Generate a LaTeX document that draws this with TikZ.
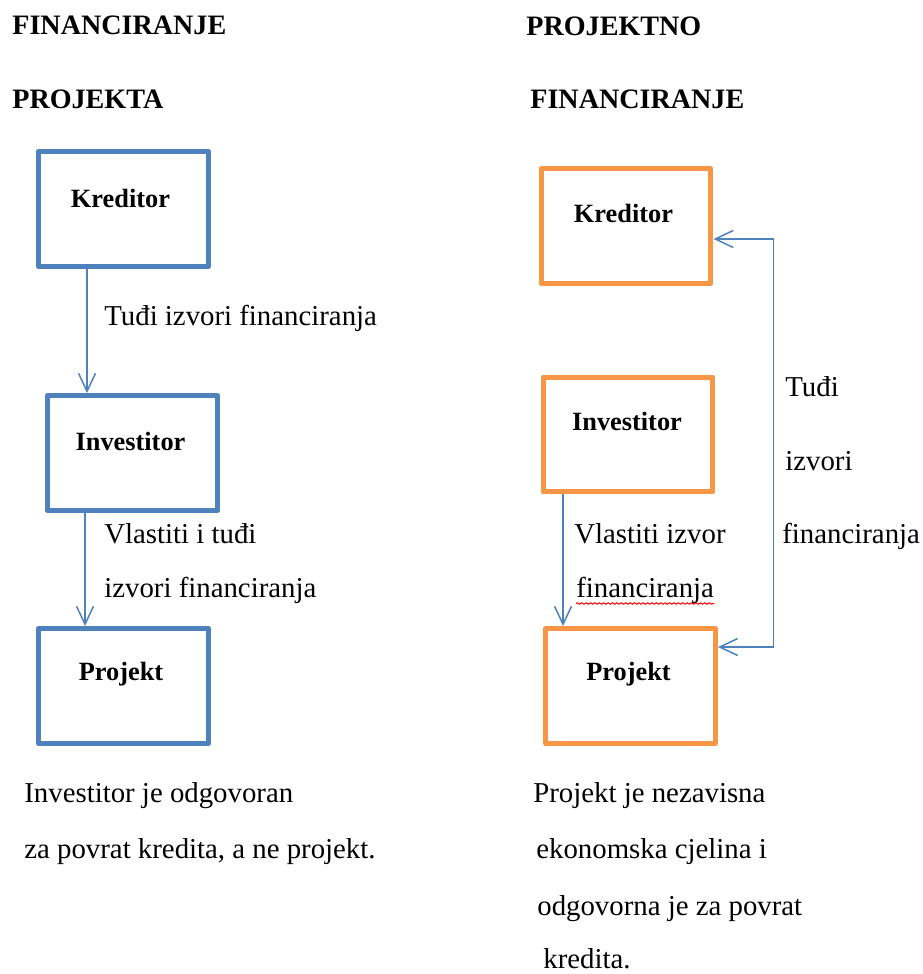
\documentclass[tikz,border=0pt]{standalone}
\usepackage{fontspec}
\setmainfont{Liberation Serif}
\usetikzlibrary{arrows.meta,decorations.pathmorphing}

\tikzset{
	box/.style={draw, line width=0.1cm, line join=round, minimum width=3.4cm, minimum height=2.3cm, inner sep=0pt},
	boxtext/.style={anchor=base, inner sep=0pt, font=\fontsize{15}{18}\selectfont\bfseries},
	txt/.style={anchor=base west, inner sep=0pt, font=\fontsize{16.4}{19}\selectfont},
	title/.style={txt, font=\fontsize{16}{19}\selectfont\bfseries},
	tok/.style={draw=LNK, line width=0.03cm}
}

\begin{document}
\begin{tikzpicture}[x=0.02cm,y=-0.02cm,>={Straight Barb[length=3.6mm,width=3.4mm]}]
\definecolor{LFT}{HTML}{4F81BD}
\definecolor{RGT}{HTML}{F79646}
\colorlet{LNK}{LFT}

\useasboundingbox (0,0) rectangle (923,974);

% Financiranje projekta
\node[title] (titL1) at (12,34) {FINANCIRANJE};
\node[title] (titL2) at (12,108) {PROJEKTA};

\foreach \n/\x/\y in {kredL/123.5/209,invL/132.5/453,projL/123.5/686}{
	\node[box, draw=LFT] (\n) at (\x,\y) {};
}
\node[boxtext] (kredLt) at (120.5,207) {Kreditor};
\node[boxtext] (invLt) at (130.5,450) {Investitor};
\node[boxtext] (projLt) at (121,680) {Projekt};

\draw[tok,->] ([xshift=-0.73cm]kredL.south) -- ([xshift=-0.73cm]kredL.south |- invL.north);
\draw[tok,->] ([xshift=-0.95cm]invL.south) -- ([xshift=-0.95cm]invL.south |- projL.north);

\node[txt] (tudjL) at (104,325) {Tuđi izvori financiranja};
\node[txt] (vlastL1) at (104,543) {Vlastiti i tuđi};
\node[txt] (vlastL2) at (104,597) {izvori financiranja};

\node[txt] (noteL1) at (24,802) {Investitor je odgovoran};
\node[txt] (noteL2) at (24,858) {za povrat kredita, a ne projekt.};

% Projektno financiranje
\node[title] (titR1) at (526,35) {PROJEKTNO};
\node[title] (titR2) at (530,108) {FINANCIRANJE};

\foreach \n/\x/\y in {kredR/626/226,invR/628/434.5,projR/630.5/686}{
	\node[box, draw=RGT] (\n) at (\x,\y) {};
}
\node[boxtext] (kredRt) at (623.5,222) {Kreditor};
\node[boxtext] (invRt) at (627,430) {Investitor};
\node[boxtext] (projRt) at (628.5,680) {Projekt};

\draw[tok,->] ([xshift=-1.3cm]invR.south) -- ([xshift=-1.3cm]invR.south |- projR.north);
\draw[tok,<->] ([yshift=-0.26cm]kredR.east) -- ++(60,0) |- ([yshift=0.78cm]projR.east);

\node[txt] (vlastR1) at (574,543) {Vlastiti izvor};
\node[txt] (vlastR2) at (576,597) {financiranja};
\draw[red, line width=0.02cm, decorate, decoration={snake, amplitude=0.4pt, segment length=2.5pt}]
	([yshift=-0.13cm]vlastR2.base west) -- ([yshift=-0.13cm]vlastR2.base east);

\node[txt] (tudjR1) at (785,396) {Tuđi};
\node[txt] (tudjR2) at (785,470) {izvori};
\node[txt] (tudjR3) at (782,543) {financiranja};

\node[txt] (noteR1) at (533,802) {Projekt je nezavisna};
\node[txt] (noteR2) at (536,858) {ekonomska cjelina i};
\node[txt] (noteR3) at (537,915) {odgovorna je za povrat};
\node[txt] (noteR4) at (543,968) {kredita.};

\end{tikzpicture}
\end{document}
